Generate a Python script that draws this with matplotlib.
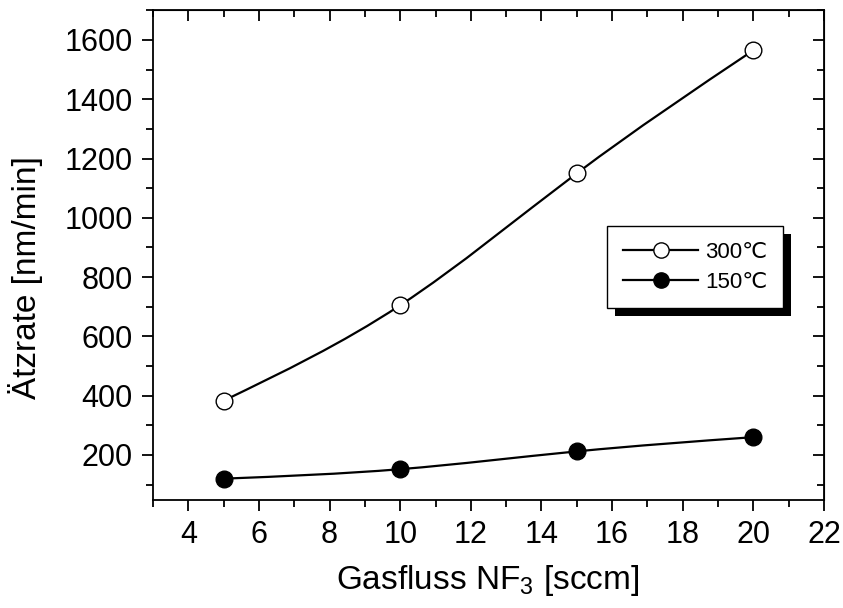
import numpy as np
import matplotlib.pyplot as plt
from matplotlib.path import Path
from matplotlib.patches import PathPatch, Rectangle
from matplotlib.ticker import MultipleLocator

plt.rcParams['font.family'] = ['Liberation Sans', 'DejaVu Sans']
plt.rcParams['mathtext.fontset'] = 'custom'
plt.rcParams['mathtext.rm'] = 'Liberation Sans'
plt.rcParams['mathtext.it'] = 'Liberation Sans'

gasfluss = [5, 10, 15, 20]
rate_300 = [383, 705, 1150, 1565]
rate_150 = [120, 152, 212, 260]
labels = ['300\u2103', '150\u2103']


def spline_path(x, y):
    # natural cubic spline through the points, drawn as bezier segments
    x = np.asarray(x, float)
    y = np.asarray(y, float)
    n = len(x)
    h = np.diff(x)
    A = np.zeros((n, n))
    b = np.zeros(n)
    A[0, 0], A[0, 1] = 2, 1
    b[0] = 3 * (y[1] - y[0]) / h[0]
    A[-1, -2], A[-1, -1] = 1, 2
    b[-1] = 3 * (y[-1] - y[-2]) / h[-1]
    for i in range(1, n - 1):
        A[i, i - 1] = 1 / h[i - 1]
        A[i, i] = 2 * (1 / h[i - 1] + 1 / h[i])
        A[i, i + 1] = 1 / h[i]
        b[i] = 3 * ((y[i] - y[i - 1]) / h[i - 1] ** 2 + (y[i + 1] - y[i]) / h[i] ** 2)
    m = np.linalg.solve(A, b)
    verts = [(x[0], y[0])]
    codes = [Path.MOVETO]
    for i in range(n - 1):
        d = h[i] / 3
        verts += [(x[i] + d, y[i] + d * m[i]),
                  (x[i + 1] - d, y[i + 1] - d * m[i + 1]),
                  (x[i + 1], y[i + 1])]
        codes += [Path.CURVE4] * 3
    return Path(verts, codes)


fig = plt.figure(figsize=(8.43, 6.08), dpi=100)
ax = fig.add_axes([153 / 843, 108 / 608, 671 / 843, 490 / 608])

for y, face in [(rate_300, 'white'), (rate_150, 'black')]:
    ax.add_patch(PathPatch(spline_path(gasfluss, y), fill=False, lw=1.6,
                           edgecolor='black', zorder=2))
    ax.plot(gasfluss, y, linestyle='none', marker='o', ms=12,
            mfc=face, mec='black', mew=1.0, zorder=3)

ax.set_xlim(3, 22)
ax.set_ylim(48, 1701)
ax.xaxis.set_major_locator(MultipleLocator(2))
ax.xaxis.set_minor_locator(MultipleLocator(1))
ax.yaxis.set_major_locator(MultipleLocator(200))
ax.yaxis.set_minor_locator(MultipleLocator(100))

for s in ax.spines.values():
    s.set_linewidth(1.3)
ax.tick_params(which='both', direction='out', width=1.3, labelsize=22,
               top=False, right=False, pad=6.5)
ax.tick_params(which='major', length=8)
ax.tick_params(which='minor', length=5)

# mirrored ticks on top and right, pointing inward
top = ax.secondary_xaxis('top')
top.xaxis.set_major_locator(MultipleLocator(2))
top.xaxis.set_minor_locator(MultipleLocator(1))
top.tick_params(which='both', direction='in', width=1.3, labeltop=False)
top.tick_params(which='major', length=8)
top.tick_params(which='minor', length=5)
right = ax.secondary_yaxis('right')
right.yaxis.set_major_locator(MultipleLocator(200))
right.yaxis.set_minor_locator(MultipleLocator(100))
right.tick_params(which='both', direction='in', width=1.3, labelright=False)
right.tick_params(which='major', length=8)
right.tick_params(which='minor', length=5)

ax.set_xlabel('Gasfluss NF$_{3}$ [sccm]', fontsize=24)
ax.set_ylabel('\u00c4tzrate [nm/min]', fontsize=24)
ax.xaxis.set_label_coords(0.498, -0.128)
ax.yaxis.set_label_coords(-0.164, 0.453)

handles = [plt.Line2D([], [], color='black', lw=1.6, marker='o', ms=11,
                      mfc=f, mec='black', mew=1.0) for f in ('white', 'black')]
leg = ax.legend(handles, labels, loc='upper left',
                bbox_to_anchor=(0.677, 0.559), borderaxespad=0,
                fontsize=16, frameon=True, fancybox=False, framealpha=1,
                edgecolor='black', handlelength=3.4, handletextpad=0.3,
                borderpad=0.7, labelspacing=0.4)
leg.get_frame().set_linewidth(1.0)
leg.set_zorder(6)

# solid drop shadow behind the legend box
fig.canvas.draw()
bb = leg.get_window_extent().transformed(fig.transFigure.inverted())
dx, dy = 8 / 843, 8 / 608
ax.add_artist(Rectangle((bb.x0 + dx, bb.y0 - dy), bb.width, bb.height,
                        transform=fig.transFigure, facecolor='black',
                        edgecolor='none', zorder=5, clip_on=False))

fig.savefig('out.png', dpi=100)
